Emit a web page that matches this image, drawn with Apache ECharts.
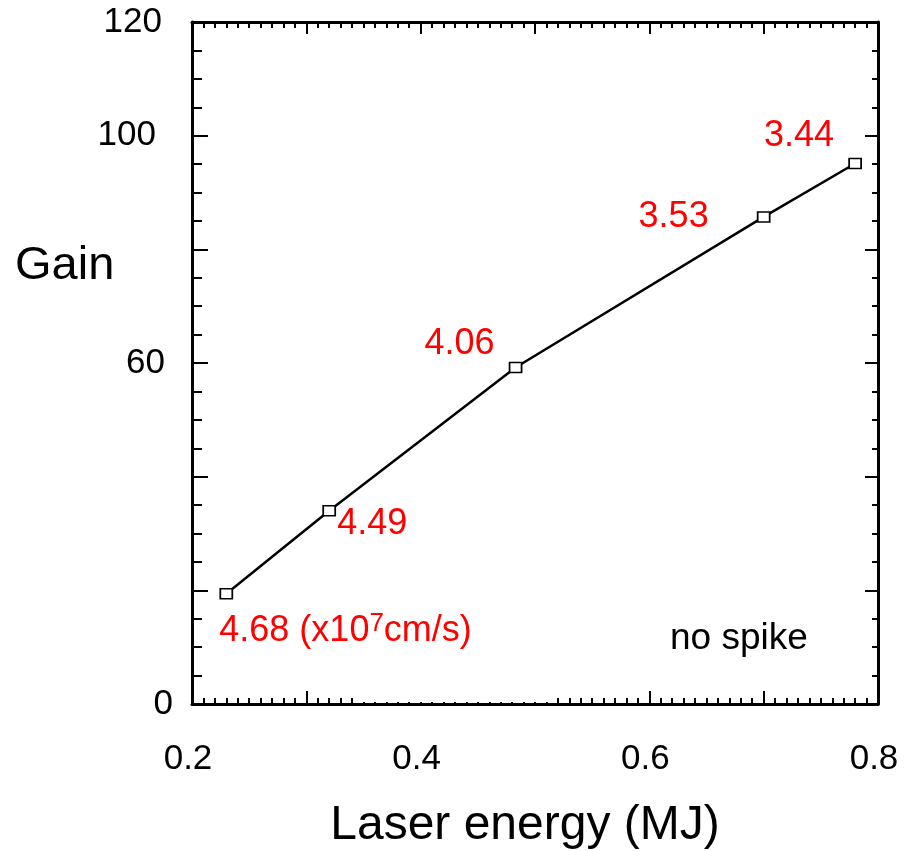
<!DOCTYPE html>
<html>
<head>
<meta charset="utf-8">
<title>Gain vs laser energy</title>
<script src="https://cdn.jsdelivr.net/npm/echarts@6/dist/echarts.min.js"></script>
<style>
  html, body { margin: 0; padding: 0; background: #fff; }
  #chart { width: 904px; height: 851px; }
</style>
</head>
<body>
<div id="chart"></div>
<script>
// values
const energy = [0.23, 0.32, 0.483, 0.70, 0.78];     // MJ
const gain = [19.4, 34.0, 59.2, 85.7, 95.1];
const velocity = ['4.68', '4.49', '4.06', '3.53', '3.44']; // x10^7 cm/s
const xLabelValues = [0.2, 0.4, 0.6, 0.8];
const yLabelValues = [0, 60, 100, 120];

const FONT = '"Liberation Sans", Arial, Helvetica, sans-serif';

// where each red velocity label sits relative to its marker
const labelPlace = [
  { align: 'left', offset: [-7, 37] },
  { align: 'left', offset: [8, 13] },
  { align: 'right', offset: [-21, -23] },
  { align: 'right', offset: [-55, 0] },
  { align: 'right', offset: [-21, -27] }
];

// small per-label nudges, the y labels in the original are not aligned
const yLabelPad = { 0: 0, 60: 8, 100: 17, 120: 11 };

const myChart = echarts.init(document.getElementById('chart'));

const black = '#000';
const axisLine = { show: true, onZero: false, lineStyle: { color: black, width: 3 } };

function xAxisBase(pos, showLabel) {
  return {
    type: 'value',
    position: pos,
    min: 0.2,
    max: 0.8,
    interval: 0.1,
    axisLine: axisLine,
    axisTick: { show: true, inside: true, length: pos === 'top' ? 12 : 13, lineStyle: { color: black, width: 2 } },
    minorTick: { show: true, splitNumber: 10, length: 6, lineStyle: { color: black, width: 2 } },
    splitLine: { show: false },
    axisLabel: {
      show: showLabel,
      margin: 38,
      color: black,
      fontFamily: FONT,
      fontSize: 35,
      padding: [0, 8, 0, 0],
      formatter: function (v) {
        const hit = xLabelValues.some(function (t) { return Math.abs(t - v) < 1e-6; });
        return hit ? v.toFixed(1) : '';
      }
    }
  };
}

function yAxisBase(pos, showLabel) {
  return {
    type: 'value',
    position: pos,
    min: 0,
    max: 120,
    interval: 20,
    axisLine: axisLine,
    axisTick: { show: true, inside: true, length: pos === 'left' ? 16 : 13, lineStyle: { color: black, width: 2 } },
    minorTick: { show: true, splitNumber: 4, length: pos === 'left' ? 10 : 6, lineStyle: { color: black, width: 2 } },
    splitLine: { show: false },
    axisLabel: {
      show: showLabel,
      margin: 19,
      color: black,
      fontFamily: FONT,
      fontSize: 35,
      formatter: function (v) {
        if (yLabelValues.indexOf(v) < 0) return '';
        return '{p' + v + '|' + v + '}';
      },
      rich: {
        p0: { fontFamily: FONT, fontSize: 35, color: black, padding: [0, yLabelPad[0], 0, 0] },
        p60: { fontFamily: FONT, fontSize: 35, color: black, padding: [0, yLabelPad[60], 0, 0] },
        p100: { fontFamily: FONT, fontSize: 35, color: black, padding: [0, yLabelPad[100], 0, 0] },
        p120: { fontFamily: FONT, fontSize: 35, color: black, padding: [0, yLabelPad[120], 0, 0] }
      }
    }
  };
}

const xBottom = xAxisBase('bottom', true);
xBottom.name = 'Laser energy (MJ)';
xBottom.nameLocation = 'middle';
xBottom.nameGap = 98;
xBottom.nameTextStyle = { fontFamily: FONT, fontSize: 48, color: black, padding: [0, 20, 0, 0] };

const points = energy.map(function (e, i) {
  return {
    value: [e, gain[i]],
    label: {
      align: labelPlace[i].align,
      offset: labelPlace[i].offset
    }
  };
});

const option = {
  animation: false,
  backgroundColor: '#fff',
  grid: { left: 192, right: 26, top: 22, bottom: 147, outerBoundsMode: 'none', containLabel: false },
  xAxis: [xBottom, xAxisBase('top', false)],
  yAxis: [yAxisBase('left', true), yAxisBase('right', false)],
  series: [
    {
      type: 'line',
      data: points,
      symbol: 'rect',
      symbolSize: [12, 10],
      showAllSymbol: true,
      lineStyle: { color: black, width: 2.5 },
      itemStyle: { color: '#fff', borderColor: black, borderWidth: 1.6 },
      label: {
        show: true,
        position: 'inside',
        verticalAlign: 'middle',
        color: '#ff0000',
        fontFamily: FONT,
        fontSize: 36,
        formatter: function (p) {
          const v = velocity[p.dataIndex];
          if (p.dataIndex === 0) return '{v|' + v + ' (x10}{sup|7}{v|cm/s)}';
          return '{v|' + v + '}';
        },
        rich: {
          v: { color: '#ff0000', fontFamily: FONT, fontSize: 36, lineHeight: 40 },
          sup: { color: '#ff0000', fontFamily: FONT, fontSize: 26, lineHeight: 26, verticalAlign: 'top', padding: [0, 0, 0, 0] }
        }
      },
      z: 5
    }
  ]
};

myChart.setOption(option);

// the original has a stretch of bottom ticks blanked out; a white strip hides them
const gapL = myChart.convertToPixel({ xAxisIndex: 0 }, 0.345);
const gapR = myChart.convertToPixel({ xAxisIndex: 0 }, 0.515);
const axisY = myChart.convertToPixel({ yAxisIndex: 0 }, 0);

myChart.setOption({
  graphic: [
    {
      type: 'rect',
      z: 100,
      shape: { x: gapL, y: axisY - 18, width: gapR - gapL, height: 16 },
      style: { fill: '#fff' }
    },
    {
      type: 'text',
      left: 15,
      top: 243,
      style: { text: 'Gain', fontFamily: FONT, fontSize: 47, fill: black }
    },
    {
      type: 'text',
      left: 670,
      top: 620,
      style: { text: 'no spike', fontFamily: FONT, fontSize: 37, fill: black }
    }
  ]
});
</script>
</body>
</html>
